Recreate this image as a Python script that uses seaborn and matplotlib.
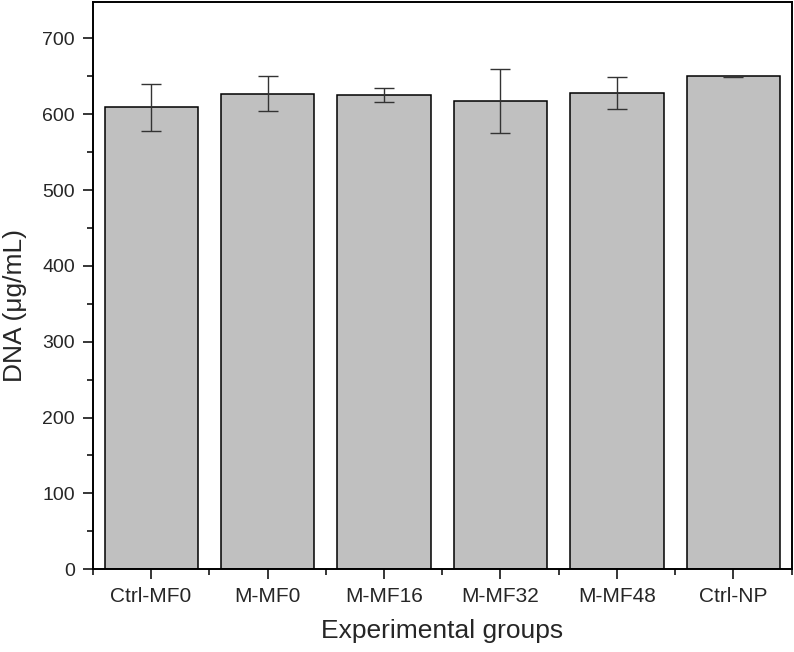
import seaborn as sns
import matplotlib.pyplot as plt
from matplotlib.ticker import MultipleLocator, FixedLocator
import pandas as pd

groups = ["Ctrl-MF0", "M-MF0", "M-MF16", "M-MF32", "M-MF48", "Ctrl-NP"]
dna = [609, 627, 625, 617, 628, 650]
sd = [31, 23, 9, 42, 21, 1]

df = pd.DataFrame({"group": groups, "dna": dna})

sns.set_style("ticks")
plt.rcParams["font.family"] = ["Liberation Sans", "DejaVu Sans"]

fig = plt.figure(figsize=(7.94, 6.52), dpi=100)
ax = fig.add_axes([0.117, 0.127, 0.880, 0.870])

sns.barplot(data=df, x="group", y="dna", color="#c0c0c0", edgecolor="black",
            linewidth=1.1, width=0.8, saturation=1, errorbar=None, ax=ax)
ax.errorbar(range(len(groups)), dna, yerr=sd, fmt="none", ecolor="#333333",
            elinewidth=1, capsize=7, capthick=1)

ax.set_xlim(-0.5, 5.5)
ax.set_ylim(0, 748)
ax.yaxis.set_major_locator(FixedLocator(range(0, 701, 100)))
ax.yaxis.set_minor_locator(MultipleLocator(50))
ax.xaxis.set_minor_locator(FixedLocator([i - 0.5 for i in range(7)]))

for s in ["left", "right", "bottom", "top"]:
    ax.spines[s].set_linewidth(1.4)
    ax.spines[s].set_color("black")

ax.tick_params(which="major", length=7, width=1.3, labelsize=14, direction="out",
               top=False, right=False)
ax.tick_params(which="minor", length=4, width=1.3, direction="out",
               top=False, right=False)
ax.tick_params(axis="x", pad=6, labelsize=15)
ax.tick_params(axis="y", pad=6)

ax.set_xlabel("Experimental groups", fontsize=19, labelpad=9)
ax.set_ylabel("DNA (\u03bcg/mL)", fontsize=19)
ax.yaxis.set_label_coords(-0.095, 0.465)

fig.savefig("out.png", dpi=100)
